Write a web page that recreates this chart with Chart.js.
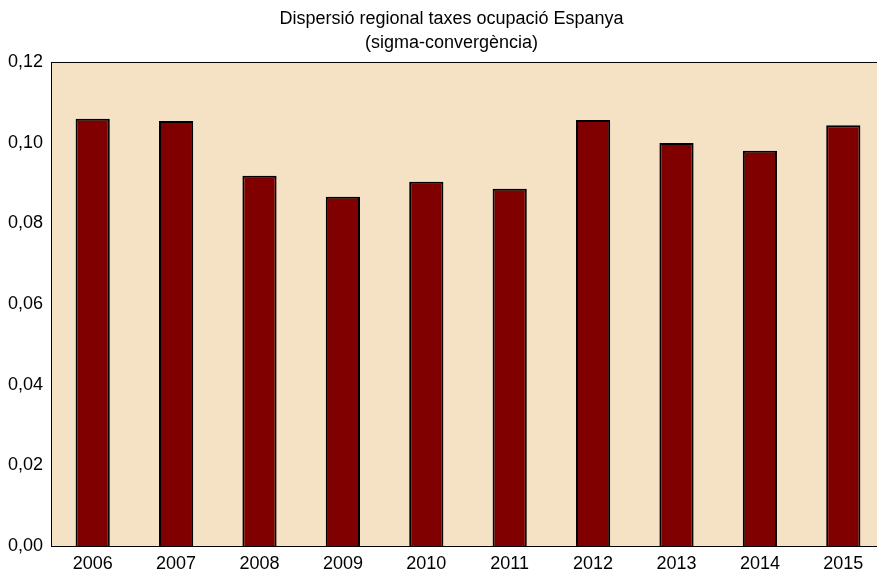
<!DOCTYPE html>
<html>
<head>
<meta charset="utf-8">
<script src="https://cdn.jsdelivr.net/npm/chart.js@4/dist/chart.umd.min.js"></script>
<style>
  html, body { margin: 0; padding: 0; background: #fff; overflow: hidden; }
  #wrap { width: 886px; height: 572px; }
</style>
</head>
<body>
<div id="wrap"><canvas id="myChart" width="886" height="572"></canvas></div>
<script>
var years = ["2006", "2007", "2008", "2009", "2010", "2011", "2012", "2013", "2014", "2015"];
var sigma = [0.1059, 0.1054, 0.0918, 0.0866, 0.0903, 0.0886, 0.1056, 0.0999, 0.0980, 0.1043];
var yTicks = [0, 0.02, 0.04, 0.06, 0.08, 0.10, 0.12];
var titleLines = ["Dispersió regional taxes ocupació Espanya", "(sigma-convergència)"];

// paints the beige plot area and the frame around it
var plotBox = {
    id: 'plotBox',
    afterLayout: function (chart) {
        // title in the original is centred a bit right of the canvas middle
        if (chart.titleBlock) chart.titleBlock.left += 18;
    },
    beforeDatasetsDraw: function (chart) {
        var a = chart.chartArea, ctx = chart.ctx;
        ctx.save();
        ctx.fillStyle = '#F5E1C3';
        ctx.fillRect(a.left, a.top, a.right - a.left, a.bottom - a.top);
        ctx.restore();
    },
    afterDatasetsDraw: function (chart) {
        var a = chart.chartArea, ctx = chart.ctx;
        ctx.save();
        ctx.strokeStyle = '#000';
        ctx.lineWidth = 1;
        ctx.strokeRect(a.left + 0.5, a.top + 0.5, a.right - a.left, a.bottom - a.top);
        ctx.restore();
    }
};

var ctx = document.getElementById('myChart').getContext('2d');
var myChart = new Chart(ctx, {
    type: 'bar',
    data: {
        labels: years,
        datasets: [{
            data: sigma,
            backgroundColor: '#800000',
            borderColor: '#000000',
            borderWidth: 2,
            barPercentage: 0.41,
            categoryPercentage: 1
        }]
    },
    options: {
        responsive: false,
        animation: false,
        layout: { padding: { left: 0, right: 1, top: 0, bottom: 0 } },
        plugins: {
            legend: { display: false },
            tooltip: { enabled: false },
            title: {
                display: true,
                text: titleLines,
                color: '#000',
                font: { family: 'Liberation Sans', size: 18, weight: 'normal', lineHeight: 1.333 },
                padding: { top: 7, bottom: 7 }
            }
        },
        scales: {
            x: {
                grid: { display: false, drawTicks: false },
                border: { display: false },
                ticks: { color: '#000', font: { family: 'Liberation Sans', size: 18 }, padding: 7, maxRotation: 0 },
                afterFit: function (s) { s.height = 26; }
            },
            y: {
                min: 0,
                max: 0.12,
                grid: { display: false, drawTicks: false },
                border: { display: false },
                afterBuildTicks: function (s) { s.ticks = yTicks.map(function (v) { return { value: v }; }); },
                ticks: {
                    color: '#000',
                    font: { family: 'Liberation Sans', size: 18 },
                    padding: 8,
                    callback: function (v) { return v.toFixed(2).replace('.', ','); }
                },
                afterFit: function (s) { s.width = 51; }
            }
        }
    },
    plugins: [plotBox]
});
</script>
</body>
</html>
